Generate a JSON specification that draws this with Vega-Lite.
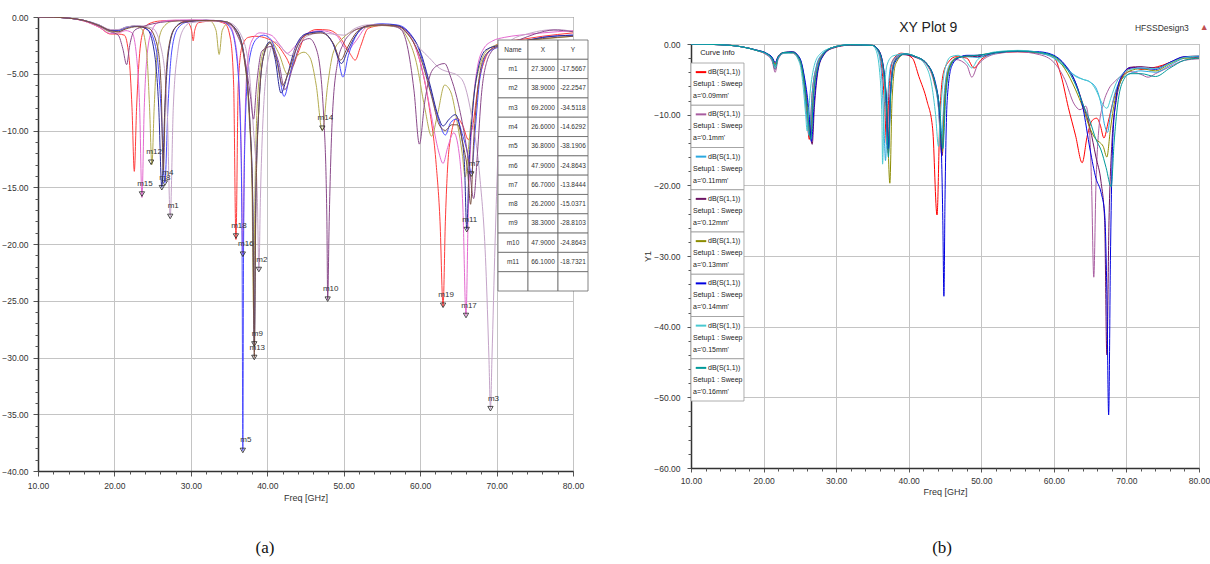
{
"$schema":"https://vega.github.io/schema/vega-lite/v6.json",
"background":"white",
"padding":{"left":1,"top":12,"right":0,"bottom":0},
"spacing":54,
"resolve":{"scale":{"color":"independent"}},
"datasets":{
"L":[
{"s":"red","f":10,"d":0},{"s":"red","f":12,"d":-0.02},{"s":"red","f":14,"d":-0.1},{"s":"red","f":16,"d":-0.35},{"s":"red","f":18,"d":-0.9},{"s":"red","f":19.5,"d":-1.5},{"s":"red","f":20.5,"d":-1.5},{"s":"red","f":21.3,"d":-1.6},{"s":"red","f":21.9,"d":-3.5},{"s":"red","f":22.3,"d":-8},{"s":"red","f":22.6,"d":-13.6},{"s":"red","f":22.9,"d":-8},{"s":"red","f":23.3,"d":-3.2},{"s":"red","f":23.8,"d":-1.2},{"s":"red","f":24.5,"d":-0.6},{"s":"red","f":26,"d":-0.35},{"s":"red","f":28,"d":-0.3},{"s":"red","f":29.6,"d":-0.5},{"s":"red","f":30.1,"d":-1.2},{"s":"red","f":30.3,"d":-2.1},{"s":"red","f":30.5,"d":-1.2},{"s":"red","f":31,"d":-0.5},{"s":"red","f":33,"d":-0.35},{"s":"red","f":34.5,"d":-0.6},{"s":"red","f":35.2,"d":-2},{"s":"red","f":35.6,"d":-6},{"s":"red","f":35.9,"d":-19.6},{"s":"red","f":36.2,"d":-6},{"s":"red","f":36.7,"d":-2.6},{"s":"red","f":37.5,"d":-1.8},{"s":"red","f":38.5,"d":-1.7},{"s":"red","f":40,"d":-1.9},{"s":"red","f":41.5,"d":-2.6},{"s":"red","f":42.5,"d":-3.6},{"s":"red","f":43.2,"d":-4.4},{"s":"red","f":44,"d":-3.2},{"s":"red","f":45,"d":-1.6},{"s":"red","f":46.5,"d":-1.1},{"s":"red","f":48,"d":-1.15},{"s":"red","f":49.5,"d":-1.8},{"s":"red","f":50.8,"d":-3.2},{"s":"red","f":51.5,"d":-3.8},{"s":"red","f":52.2,"d":-2.6},{"s":"red","f":53.2,"d":-1.0},{"s":"red","f":55,"d":-0.75},{"s":"red","f":57,"d":-0.8},{"s":"red","f":58.3,"d":-1.4},{"s":"red","f":59.1,"d":-2.2},{"s":"red","f":60.2,"d":-4.5},{"s":"red","f":61.2,"d":-8},{"s":"red","f":62.1,"d":-13},{"s":"red","f":62.6,"d":-18},{"s":"red","f":63.0,"d":-25.5},{"s":"red","f":63.3,"d":-18},{"s":"red","f":63.8,"d":-11.5},{"s":"red","f":64.8,"d":-8.9},{"s":"red","f":65.6,"d":-9.6},{"s":"red","f":66.3,"d":-10.8},{"s":"red","f":66.9,"d":-9.5},{"s":"red","f":67.6,"d":-6},{"s":"red","f":68.5,"d":-3.7},{"s":"red","f":69.5,"d":-2.7},{"s":"red","f":71,"d":-2.2},{"s":"red","f":73,"d":-2.0},{"s":"red","f":76,"d":-1.7},{"s":"red","f":80,"d":-1.4},
{"s":"pink","f":10,"d":0},{"s":"pink","f":12,"d":-0.02},{"s":"pink","f":14,"d":-0.1},{"s":"pink","f":16,"d":-0.35},{"s":"pink","f":18,"d":-0.9},{"s":"pink","f":19.5,"d":-1.45},{"s":"pink","f":20.5,"d":-1.4},{"s":"pink","f":21.5,"d":-1.2},{"s":"pink","f":22.3,"d":-1.4},{"s":"pink","f":22.9,"d":-3.5},{"s":"pink","f":23.3,"d":-8},{"s":"pink","f":23.6,"d":-15.9},{"s":"pink","f":23.9,"d":-8},{"s":"pink","f":24.3,"d":-3.2},{"s":"pink","f":24.9,"d":-1.2},{"s":"pink","f":25.7,"d":-0.5},{"s":"pink","f":27,"d":-0.3},{"s":"pink","f":30,"d":-0.25},{"s":"pink","f":33,"d":-0.3},{"s":"pink","f":35,"d":-0.7},{"s":"pink","f":35.8,"d":-2.2},{"s":"pink","f":36.3,"d":-6},{"s":"pink","f":36.6,"d":-12},{"s":"pink","f":36.8,"d":-20.9},{"s":"pink","f":37.0,"d":-12},{"s":"pink","f":37.3,"d":-5},{"s":"pink","f":37.9,"d":-2.2},{"s":"pink","f":39,"d":-1.4},{"s":"pink","f":40.5,"d":-1.6},{"s":"pink","f":41.7,"d":-2.5},{"s":"pink","f":42.6,"d":-3.2},{"s":"pink","f":43.6,"d":-2.6},{"s":"pink","f":45,"d":-1.5},{"s":"pink","f":47,"d":-1.2},{"s":"pink","f":49,"d":-1.6},{"s":"pink","f":50.5,"d":-2.9},{"s":"pink","f":51.5,"d":-2.2},{"s":"pink","f":53,"d":-0.9},{"s":"pink","f":55,"d":-0.7},{"s":"pink","f":57.5,"d":-0.9},{"s":"pink","f":59,"d":-2},{"s":"pink","f":60.4,"d":-5},{"s":"pink","f":61.5,"d":-8.8},{"s":"pink","f":62.4,"d":-11.8},{"s":"pink","f":63.0,"d":-12.9},{"s":"pink","f":63.6,"d":-11.5},{"s":"pink","f":64.4,"d":-10.2},{"s":"pink","f":65.1,"d":-12},{"s":"pink","f":65.6,"d":-17},{"s":"pink","f":66.0,"d":-26.3},{"s":"pink","f":66.3,"d":-17},{"s":"pink","f":66.8,"d":-9},{"s":"pink","f":67.4,"d":-4.8},{"s":"pink","f":68.3,"d":-2.8},{"s":"pink","f":69.5,"d":-2.1},{"s":"pink","f":71,"d":-1.8},{"s":"pink","f":73,"d":-1.6},{"s":"pink","f":76,"d":-1.4},{"s":"pink","f":80,"d":-1.2},
{"s":"olive","f":10,"d":0},{"s":"olive","f":12,"d":-0.02},{"s":"olive","f":14,"d":-0.1},{"s":"olive","f":16,"d":-0.3},{"s":"olive","f":18,"d":-0.8},{"s":"olive","f":19.5,"d":-1.3},{"s":"olive","f":20.5,"d":-1.3},{"s":"olive","f":21.5,"d":-1.0},{"s":"olive","f":22.5,"d":-0.8},{"s":"olive","f":23.5,"d":-1.0},{"s":"olive","f":24.2,"d":-3},{"s":"olive","f":24.6,"d":-8},{"s":"olive","f":24.9,"d":-13.0},{"s":"olive","f":25.2,"d":-8},{"s":"olive","f":25.6,"d":-3},{"s":"olive","f":26.3,"d":-1.0},{"s":"olive","f":27.5,"d":-0.4},{"s":"olive","f":30,"d":-0.3},{"s":"olive","f":32.5,"d":-0.35},{"s":"olive","f":33.3,"d":-1.2},{"s":"olive","f":33.7,"d":-3.3},{"s":"olive","f":34.1,"d":-1.2},{"s":"olive","f":34.8,"d":-0.6},{"s":"olive","f":36,"d":-1.2},{"s":"olive","f":36.9,"d":-3.2},{"s":"olive","f":37.6,"d":-8.5},{"s":"olive","f":38.0,"d":-15},{"s":"olive","f":38.2,"d":-25.8},{"s":"olive","f":38.4,"d":-15},{"s":"olive","f":38.8,"d":-6.5},{"s":"olive","f":39.5,"d":-3},{"s":"olive","f":40.5,"d":-2.2},{"s":"olive","f":41.5,"d":-3.2},{"s":"olive","f":42.7,"d":-5.1},{"s":"olive","f":43.7,"d":-3.6},{"s":"olive","f":44.8,"d":-3.1},{"s":"olive","f":45.6,"d":-3.6},{"s":"olive","f":46.4,"d":-6},{"s":"olive","f":47.2,"d":-10},{"s":"olive","f":47.9,"d":-6},{"s":"olive","f":48.6,"d":-3.2},{"s":"olive","f":49.7,"d":-2.0},{"s":"olive","f":51,"d":-1.3},{"s":"olive","f":53,"d":-0.9},{"s":"olive","f":55,"d":-0.75},{"s":"olive","f":57,"d":-0.9},{"s":"olive","f":58.3,"d":-1.8},{"s":"olive","f":59.5,"d":-4},{"s":"olive","f":60.6,"d":-8},{"s":"olive","f":61.5,"d":-10.5},{"s":"olive","f":62.3,"d":-8.5},{"s":"olive","f":63.2,"d":-6.0},{"s":"olive","f":64.0,"d":-6.6},{"s":"olive","f":64.9,"d":-9.5},{"s":"olive","f":65.5,"d":-12},{"s":"olive","f":65.9,"d":-14.1},{"s":"olive","f":66.4,"d":-11},{"s":"olive","f":67,"d":-7},{"s":"olive","f":67.8,"d":-4.3},{"s":"olive","f":68.8,"d":-2.9},{"s":"olive","f":70.3,"d":-2.4},{"s":"olive","f":72,"d":-2.2},{"s":"olive","f":75,"d":-2.0},{"s":"olive","f":80,"d":-1.7},
{"s":"blue","f":10,"d":0},{"s":"blue","f":12,"d":-0.02},{"s":"blue","f":14,"d":-0.1},{"s":"blue","f":16,"d":-0.3},{"s":"blue","f":18,"d":-0.75},{"s":"blue","f":19.5,"d":-1.2},{"s":"blue","f":20.5,"d":-1.2},{"s":"blue","f":21.5,"d":-0.95},{"s":"blue","f":23,"d":-0.8},{"s":"blue","f":24.5,"d":-1.2},{"s":"blue","f":25.5,"d":-3},{"s":"blue","f":26.1,"d":-8},{"s":"blue","f":26.6,"d":-14.6},{"s":"blue","f":27.0,"d":-8},{"s":"blue","f":27.5,"d":-3},{"s":"blue","f":28.3,"d":-1.0},{"s":"blue","f":29.5,"d":-0.45},{"s":"blue","f":32,"d":-0.3},{"s":"blue","f":34,"d":-0.35},{"s":"blue","f":35.2,"d":-1.0},{"s":"blue","f":36.0,"d":-3.5},{"s":"blue","f":36.5,"d":-10},{"s":"blue","f":36.7,"d":-20},{"s":"blue","f":36.8,"d":-38.2},{"s":"blue","f":36.9,"d":-20},{"s":"blue","f":37.1,"d":-10},{"s":"blue","f":37.6,"d":-4},{"s":"blue","f":38.5,"d":-2},{"s":"blue","f":39.5,"d":-1.6},{"s":"blue","f":40.5,"d":-2.0},{"s":"blue","f":41.3,"d":-3.8},{"s":"blue","f":42.2,"d":-7.0},{"s":"blue","f":43,"d":-5},{"s":"blue","f":44,"d":-2.4},{"s":"blue","f":45.5,"d":-1.4},{"s":"blue","f":47,"d":-1.3},{"s":"blue","f":48.2,"d":-1.9},{"s":"blue","f":49.2,"d":-3.4},{"s":"blue","f":49.9,"d":-5.3},{"s":"blue","f":50.6,"d":-3.4},{"s":"blue","f":51.5,"d":-1.8},{"s":"blue","f":53,"d":-0.8},{"s":"blue","f":55,"d":-0.6},{"s":"blue","f":57,"d":-0.7},{"s":"blue","f":58.5,"d":-1.3},{"s":"blue","f":59.8,"d":-2.8},{"s":"blue","f":61,"d":-5.5},{"s":"blue","f":62.3,"d":-8.8},{"s":"blue","f":63.3,"d":-10.4},{"s":"blue","f":64.0,"d":-9.3},{"s":"blue","f":64.7,"d":-9.0},{"s":"blue","f":65.6,"d":-10.5},{"s":"blue","f":66.2,"d":-12},{"s":"blue","f":66.7,"d":-13.8},{"s":"blue","f":67.2,"d":-10},{"s":"blue","f":67.8,"d":-5.5},{"s":"blue","f":68.8,"d":-3.2},{"s":"blue","f":70.5,"d":-2.6},{"s":"blue","f":73,"d":-2.2},{"s":"blue","f":76,"d":-1.8},{"s":"blue","f":80,"d":-1.6},
{"s":"navy","f":10,"d":0},{"s":"navy","f":12,"d":-0.02},{"s":"navy","f":14,"d":-0.1},{"s":"navy","f":16,"d":-0.3},{"s":"navy","f":18,"d":-0.7},{"s":"navy","f":19.5,"d":-1.15},{"s":"navy","f":20.5,"d":-1.15},{"s":"navy","f":21.5,"d":-0.9},{"s":"navy","f":23,"d":-0.8},{"s":"navy","f":24.3,"d":-1.1},{"s":"navy","f":25.2,"d":-3},{"s":"navy","f":25.8,"d":-8},{"s":"navy","f":26.2,"d":-15.0},{"s":"navy","f":26.6,"d":-8},{"s":"navy","f":27.1,"d":-3},{"s":"navy","f":27.9,"d":-1.0},{"s":"navy","f":29,"d":-0.45},{"s":"navy","f":32,"d":-0.3},{"s":"navy","f":34.5,"d":-0.4},{"s":"navy","f":36,"d":-1.2},{"s":"navy","f":37,"d":-3.5},{"s":"navy","f":37.7,"d":-9},{"s":"navy","f":38.1,"d":-16},{"s":"navy","f":38.3,"d":-28.8},{"s":"navy","f":38.5,"d":-16},{"s":"navy","f":38.9,"d":-8},{"s":"navy","f":39.5,"d":-3.5},{"s":"navy","f":40.3,"d":-2.2},{"s":"navy","f":41,"d":-3.6},{"s":"navy","f":41.8,"d":-6.7},{"s":"navy","f":42.6,"d":-5.2},{"s":"navy","f":43.6,"d":-2.8},{"s":"navy","f":45,"d":-1.5},{"s":"navy","f":47,"d":-1.3},{"s":"navy","f":48.5,"d":-2.2},{"s":"navy","f":49.7,"d":-4.1},{"s":"navy","f":50.5,"d":-3},{"s":"navy","f":51.5,"d":-1.7},{"s":"navy","f":53,"d":-0.8},{"s":"navy","f":55,"d":-0.65},{"s":"navy","f":57,"d":-0.75},{"s":"navy","f":58.5,"d":-1.4},{"s":"navy","f":60,"d":-3},{"s":"navy","f":61.3,"d":-6},{"s":"navy","f":62.3,"d":-8.6},{"s":"navy","f":63.0,"d":-9.6},{"s":"navy","f":63.8,"d":-9.0},{"s":"navy","f":64.6,"d":-8.6},{"s":"navy","f":65.4,"d":-10.5},{"s":"navy","f":65.8,"d":-13},{"s":"navy","f":66.1,"d":-18.7},{"s":"navy","f":66.4,"d":-13},{"s":"navy","f":66.9,"d":-8},{"s":"navy","f":67.6,"d":-4.5},{"s":"navy","f":68.6,"d":-2.9},{"s":"navy","f":70.3,"d":-2.5},{"s":"navy","f":73,"d":-2.2},{"s":"navy","f":76,"d":-1.8},{"s":"navy","f":80,"d":-1.6},
{"s":"mauve","f":10,"d":0},{"s":"mauve","f":12,"d":-0.02},{"s":"mauve","f":14,"d":-0.1},{"s":"mauve","f":16,"d":-0.3},{"s":"mauve","f":18,"d":-0.7},{"s":"mauve","f":19.5,"d":-1.1},{"s":"mauve","f":20.5,"d":-1.1},{"s":"mauve","f":21.5,"d":-0.9},{"s":"mauve","f":23,"d":-0.75},{"s":"mauve","f":25,"d":-1.0},{"s":"mauve","f":26.2,"d":-3},{"s":"mauve","f":26.9,"d":-8},{"s":"mauve","f":27.3,"d":-17.6},{"s":"mauve","f":27.7,"d":-8},{"s":"mauve","f":28.3,"d":-3},{"s":"mauve","f":29,"d":-1.1},{"s":"mauve","f":30,"d":-0.5},{"s":"mauve","f":33,"d":-0.35},{"s":"mauve","f":35,"d":-0.5},{"s":"mauve","f":36.5,"d":-1.5},{"s":"mauve","f":37.5,"d":-4},{"s":"mauve","f":38.2,"d":-10},{"s":"mauve","f":38.7,"d":-16},{"s":"mauve","f":38.9,"d":-22.3},{"s":"mauve","f":39.1,"d":-16},{"s":"mauve","f":39.6,"d":-7},{"s":"mauve","f":40.3,"d":-3.2},{"s":"mauve","f":41,"d":-2.2},{"s":"mauve","f":42,"d":-2.8},{"s":"mauve","f":43.1,"d":-3.4},{"s":"mauve","f":44,"d":-2.4},{"s":"mauve","f":45.5,"d":-1.6},{"s":"mauve","f":47,"d":-1.4},{"s":"mauve","f":48.5,"d":-1.5},{"s":"mauve","f":50,"d":-1.6},{"s":"mauve","f":51.5,"d":-1.0},{"s":"mauve","f":53,"d":-0.7},{"s":"mauve","f":55,"d":-0.65},{"s":"mauve","f":57,"d":-0.9},{"s":"mauve","f":58.5,"d":-1.6},{"s":"mauve","f":60,"d":-2.8},{"s":"mauve","f":61.2,"d":-3.6},{"s":"mauve","f":62.5,"d":-4.5},{"s":"mauve","f":64,"d":-4.9},{"s":"mauve","f":64.8,"d":-5.1},{"s":"mauve","f":65.7,"d":-5.8},{"s":"mauve","f":66.8,"d":-9},{"s":"mauve","f":67.8,"d":-14},{"s":"mauve","f":68.6,"d":-22},{"s":"mauve","f":69.0,"d":-30},{"s":"mauve","f":69.2,"d":-34.5},{"s":"mauve","f":69.4,"d":-30},{"s":"mauve","f":69.8,"d":-20},{"s":"mauve","f":70.3,"d":-10},{"s":"mauve","f":71,"d":-4},{"s":"mauve","f":72,"d":-2.0},{"s":"mauve","f":74,"d":-1.5},{"s":"mauve","f":76.5,"d":-1.15},{"s":"mauve","f":78,"d":-1.1},{"s":"mauve","f":80,"d":-1.3},
{"s":"purple","f":10,"d":0},{"s":"purple","f":12,"d":-0.02},{"s":"purple","f":14,"d":-0.1},{"s":"purple","f":16,"d":-0.3},{"s":"purple","f":18,"d":-0.8},{"s":"purple","f":19.5,"d":-1.3},{"s":"purple","f":20.5,"d":-1.6},{"s":"purple","f":21.1,"d":-2.8},{"s":"purple","f":21.6,"d":-4.2},{"s":"purple","f":22.0,"d":-2.5},{"s":"purple","f":22.6,"d":-1.2},{"s":"purple","f":23.5,"d":-0.9},{"s":"purple","f":25,"d":-0.6},{"s":"purple","f":27,"d":-0.4},{"s":"purple","f":30,"d":-0.3},{"s":"purple","f":33,"d":-0.3},{"s":"purple","f":35,"d":-0.6},{"s":"purple","f":36,"d":-1.5},{"s":"purple","f":37,"d":-3.5},{"s":"purple","f":37.8,"d":-7},{"s":"purple","f":38.2,"d":-9},{"s":"purple","f":38.6,"d":-6},{"s":"purple","f":39.3,"d":-3},{"s":"purple","f":40.5,"d":-2.6},{"s":"purple","f":41.5,"d":-4},{"s":"purple","f":42.3,"d":-6.4},{"s":"purple","f":43.3,"d":-4.5},{"s":"purple","f":44.5,"d":-2.2},{"s":"purple","f":45.5,"d":-1.9},{"s":"purple","f":46.5,"d":-3},{"s":"purple","f":47.4,"d":-9},{"s":"purple","f":47.8,"d":-18},{"s":"purple","f":47.9,"d":-24.9},{"s":"purple","f":48.1,"d":-18},{"s":"purple","f":48.5,"d":-9},{"s":"purple","f":49.2,"d":-4},{"s":"purple","f":50,"d":-2.3},{"s":"purple","f":51,"d":-1.4},{"s":"purple","f":52.5,"d":-0.9},{"s":"purple","f":54.5,"d":-0.7},{"s":"purple","f":56.5,"d":-0.8},{"s":"purple","f":57.5,"d":-1.1},{"s":"purple","f":58.3,"d":-2.5},{"s":"purple","f":59.2,"d":-6.5},{"s":"purple","f":59.9,"d":-11.2},{"s":"purple","f":60.6,"d":-7.5},{"s":"purple","f":61.5,"d":-4.8},{"s":"purple","f":62.5,"d":-4.2},{"s":"purple","f":63.2,"d":-4.1},{"s":"purple","f":64,"d":-5.3},{"s":"purple","f":64.8,"d":-7.1},{"s":"purple","f":65.7,"d":-10},{"s":"purple","f":66.4,"d":-13},{"s":"purple","f":67.0,"d":-16},{"s":"purple","f":67.5,"d":-12},{"s":"purple","f":68,"d":-7},{"s":"purple","f":68.7,"d":-4},{"s":"purple","f":69.7,"d":-2.8},{"s":"purple","f":71,"d":-2.4},{"s":"purple","f":73,"d":-2.0},{"s":"purple","f":75,"d":-1.5},{"s":"purple","f":77.5,"d":-1.15},{"s":"purple","f":80,"d":-1.3},
{"s":"brown","f":10,"d":0},{"s":"brown","f":12,"d":-0.02},{"s":"brown","f":14,"d":-0.1},{"s":"brown","f":16,"d":-0.3},{"s":"brown","f":18,"d":-0.75},{"s":"brown","f":19.5,"d":-1.2},{"s":"brown","f":20.5,"d":-1.3},{"s":"brown","f":21.5,"d":-1.05},{"s":"brown","f":23,"d":-0.85},{"s":"brown","f":24.5,"d":-1.0},{"s":"brown","f":25.6,"d":-2.5},{"s":"brown","f":26.1,"d":-6},{"s":"brown","f":26.4,"d":-13.5},{"s":"brown","f":26.7,"d":-6},{"s":"brown","f":27.2,"d":-2.3},{"s":"brown","f":28,"d":-0.9},{"s":"brown","f":29.5,"d":-0.4},{"s":"brown","f":32,"d":-0.3},{"s":"brown","f":34.5,"d":-0.4},{"s":"brown","f":36,"d":-1.3},{"s":"brown","f":37,"d":-3.8},{"s":"brown","f":37.7,"d":-9},{"s":"brown","f":38.1,"d":-17},{"s":"brown","f":38.3,"d":-30},{"s":"brown","f":38.5,"d":-17},{"s":"brown","f":38.9,"d":-8},{"s":"brown","f":39.5,"d":-3.5},{"s":"brown","f":40.4,"d":-2.3},{"s":"brown","f":41.2,"d":-3.8},{"s":"brown","f":42,"d":-6},{"s":"brown","f":42.8,"d":-4.8},{"s":"brown","f":43.8,"d":-2.8},{"s":"brown","f":45,"d":-1.6},{"s":"brown","f":47,"d":-1.4},{"s":"brown","f":48.7,"d":-2.4},{"s":"brown","f":49.6,"d":-3.8},{"s":"brown","f":50.4,"d":-2.8},{"s":"brown","f":51.5,"d":-1.5},{"s":"brown","f":53,"d":-0.8},{"s":"brown","f":55,"d":-0.7},{"s":"brown","f":57,"d":-0.8},{"s":"brown","f":58.5,"d":-1.6},{"s":"brown","f":60,"d":-3.5},{"s":"brown","f":61.5,"d":-7},{"s":"brown","f":62.5,"d":-9.5},{"s":"brown","f":63.3,"d":-10},{"s":"brown","f":64.1,"d":-9.5},{"s":"brown","f":64.9,"d":-9.5},{"s":"brown","f":65.7,"d":-11.5},{"s":"brown","f":66.2,"d":-13.5},{"s":"brown","f":66.6,"d":-16.5},{"s":"brown","f":67.0,"d":-11},{"s":"brown","f":67.6,"d":-6},{"s":"brown","f":68.5,"d":-3.4},{"s":"brown","f":70,"d":-2.6},{"s":"brown","f":72.5,"d":-2.2},{"s":"brown","f":76,"d":-1.9},{"s":"brown","f":80,"d":-1.7}
],
"M":[
{"n":"m15","f":23.6,"d":-15.6},{"n":"m12","f":24.8,"d":-12.8},{"n":"m4","f":26.6,"d":-14.63},{"n":"m8","f":26.2,"d":-15.04},{"n":"m1","f":27.3,"d":-17.57},{"n":"m18","f":35.9,"d":-19.3},{"n":"m16","f":36.8,"d":-20.9},{"n":"m2","f":38.9,"d":-22.25},{"n":"m9","f":38.3,"d":-28.81},{"n":"m13","f":38.3,"d":-30.0},{"n":"m5","f":36.8,"d":-38.19},{"n":"m14","f":47.2,"d":-9.8},{"n":"m10","f":47.9,"d":-24.86},{"n":"m19","f":63.0,"d":-25.4},{"n":"m17","f":66.0,"d":-26.3},{"n":"m11","f":66.1,"d":-18.73},{"n":"m7","f":66.7,"d":-13.84},{"n":"m3","f":69.2,"d":-34.51}
],
"T":[
{"r":0,"Name":"Name","X":"X","Y":"Y"},
{"r":1,"Name":"m1","X":"27.3000","Y":"-17.5667"},
{"r":2,"Name":"m2","X":"38.9000","Y":"-22.2547"},
{"r":3,"Name":"m3","X":"69.2000","Y":"-34.5118"},
{"r":4,"Name":"m4","X":"26.6000","Y":"-14.6292"},
{"r":5,"Name":"m5","X":"36.8000","Y":"-38.1906"},
{"r":6,"Name":"m6","X":"47.9000","Y":"-24.8643"},
{"r":7,"Name":"m7","X":"66.7000","Y":"-13.8444"},
{"r":8,"Name":"m8","X":"26.2000","Y":"-15.0371"},
{"r":9,"Name":"m9","X":"38.3000","Y":"-28.8103"},
{"r":10,"Name":"m10","X":"47.9000","Y":"-24.8643"},
{"r":11,"Name":"m11","X":"66.1000","Y":"-18.7321"},
{"r":12,"Name":"","X":"","Y":""}
],
"LG":[
{"a":"0.09mm","l3":"a='0.09mm'"},{"a":"0.1mm","l3":"a='0.1mm'"},{"a":"0.11mm","l3":"a='0.11mm'"},{"a":"0.12mm","l3":"a='0.12mm'"},{"a":"0.13mm","l3":"a='0.13mm'"},{"a":"0.14mm","l3":"a='0.14mm'"},{"a":"0.15mm","l3":"a='0.15mm'"},{"a":"0.16mm","l3":"a='0.16mm'"}
],
"R":[
{"a":"0.09mm","f":10,"d":0},{"a":"0.09mm","f":14,"d":-0.1},{"a":"0.09mm","f":17,"d":-0.4},{"a":"0.09mm","f":19,"d":-0.9},{"a":"0.09mm","f":20.5,"d":-1.5},{"a":"0.09mm","f":21.2,"d":-2.0},{"a":"0.09mm","f":21.6,"d":-2.8},{"a":"0.09mm","f":22.0,"d":-1.8},{"a":"0.09mm","f":22.8,"d":-1.2},{"a":"0.09mm","f":24,"d":-1.3},{"a":"0.09mm","f":25,"d":-2.5},{"a":"0.09mm","f":25.6,"d":-6},{"a":"0.09mm","f":26.0,"d":-10.5},{"a":"0.09mm","f":26.3,"d":-13.5},{"a":"0.09mm","f":26.7,"d":-7},{"a":"0.09mm","f":27.3,"d":-3.2},{"a":"0.09mm","f":28,"d":-1.6},{"a":"0.09mm","f":29.5,"d":-0.5},{"a":"0.09mm","f":32,"d":-0.15},{"a":"0.09mm","f":35,"d":-0.2},{"a":"0.09mm","f":35.8,"d":-1.0},{"a":"0.09mm","f":36.3,"d":-3.5},{"a":"0.09mm","f":36.7,"d":-9},{"a":"0.09mm","f":36.95,"d":-14.2},{"a":"0.09mm","f":37.3,"d":-6},{"a":"0.09mm","f":37.8,"d":-2.3},{"a":"0.09mm","f":39,"d":-1.3},{"a":"0.09mm","f":40.5,"d":-2.0},{"a":"0.09mm","f":41.4,"d":-4.6},{"a":"0.09mm","f":42.5,"d":-8},{"a":"0.09mm","f":43.3,"d":-12},{"a":"0.09mm","f":43.9,"d":-24.2},{"a":"0.09mm","f":44.3,"d":-10},{"a":"0.09mm","f":44.8,"d":-4},{"a":"0.09mm","f":45.6,"d":-2.4},{"a":"0.09mm","f":46.5,"d":-1.8},{"a":"0.09mm","f":48,"d":-2.0},{"a":"0.09mm","f":49.0,"d":-3.4},{"a":"0.09mm","f":50,"d":-2.2},{"a":"0.09mm","f":52,"d":-1.3},{"a":"0.09mm","f":55,"d":-1.1},{"a":"0.09mm","f":58,"d":-1.3},{"a":"0.09mm","f":60,"d":-1.9},{"a":"0.09mm","f":61,"d":-4.5},{"a":"0.09mm","f":62,"d":-9},{"a":"0.09mm","f":63,"d":-13},{"a":"0.09mm","f":63.9,"d":-16.8},{"a":"0.09mm","f":64.6,"d":-13},{"a":"0.09mm","f":65.3,"d":-10.8},{"a":"0.09mm","f":65.9,"d":-10.5},{"a":"0.09mm","f":66.4,"d":-11.5},{"a":"0.09mm","f":66.9,"d":-13.3},{"a":"0.09mm","f":67.5,"d":-11},{"a":"0.09mm","f":68.2,"d":-8},{"a":"0.09mm","f":69,"d":-5.5},{"a":"0.09mm","f":70,"d":-3.8},{"a":"0.09mm","f":71,"d":-3.3},{"a":"0.09mm","f":72,"d":-3.6},{"a":"0.09mm","f":73.5,"d":-3.4},{"a":"0.09mm","f":75,"d":-3.0},{"a":"0.09mm","f":77,"d":-2.2},{"a":"0.09mm","f":78.5,"d":-1.8},{"a":"0.09mm","f":80,"d":-2.0},
{"a":"0.1mm","f":10,"d":0},{"a":"0.1mm","f":14,"d":-0.1},{"a":"0.1mm","f":17,"d":-0.4},{"a":"0.1mm","f":19,"d":-0.9},{"a":"0.1mm","f":20.5,"d":-1.6},{"a":"0.1mm","f":21.2,"d":-2.5},{"a":"0.1mm","f":21.6,"d":-4.0},{"a":"0.1mm","f":22.0,"d":-2.2},{"a":"0.1mm","f":22.8,"d":-1.3},{"a":"0.1mm","f":24,"d":-1.2},{"a":"0.1mm","f":25,"d":-2.3},{"a":"0.1mm","f":25.6,"d":-5.5},{"a":"0.1mm","f":26.0,"d":-9},{"a":"0.1mm","f":26.4,"d":-13.0},{"a":"0.1mm","f":26.8,"d":-8},{"a":"0.1mm","f":27.3,"d":-3.5},{"a":"0.1mm","f":28,"d":-1.7},{"a":"0.1mm","f":29.5,"d":-0.6},{"a":"0.1mm","f":32,"d":-0.15},{"a":"0.1mm","f":35,"d":-0.2},{"a":"0.1mm","f":35.8,"d":-0.9},{"a":"0.1mm","f":36.4,"d":-3.5},{"a":"0.1mm","f":36.8,"d":-8},{"a":"0.1mm","f":37.1,"d":-15.0},{"a":"0.1mm","f":37.4,"d":-7},{"a":"0.1mm","f":37.9,"d":-2.6},{"a":"0.1mm","f":39,"d":-1.4},{"a":"0.1mm","f":41,"d":-1.9},{"a":"0.1mm","f":42.5,"d":-3.0},{"a":"0.1mm","f":43.5,"d":-5.5},{"a":"0.1mm","f":44.1,"d":-9},{"a":"0.1mm","f":44.5,"d":-15.5},{"a":"0.1mm","f":44.9,"d":-8},{"a":"0.1mm","f":45.5,"d":-3.5},{"a":"0.1mm","f":46.5,"d":-2.2},{"a":"0.1mm","f":48,"d":-3.0},{"a":"0.1mm","f":48.7,"d":-4.7},{"a":"0.1mm","f":49.5,"d":-3.0},{"a":"0.1mm","f":52,"d":-1.4},{"a":"0.1mm","f":55,"d":-1.1},{"a":"0.1mm","f":58,"d":-1.5},{"a":"0.1mm","f":60,"d":-2.6},{"a":"0.1mm","f":61.5,"d":-5},{"a":"0.1mm","f":62.8,"d":-8.5},{"a":"0.1mm","f":63.6,"d":-9.3},{"a":"0.1mm","f":64.4,"d":-8.8},{"a":"0.1mm","f":64.9,"d":-12},{"a":"0.1mm","f":65.2,"d":-20},{"a":"0.1mm","f":65.5,"d":-33},{"a":"0.1mm","f":65.8,"d":-20},{"a":"0.1mm","f":66.2,"d":-12},{"a":"0.1mm","f":66.8,"d":-8.5},{"a":"0.1mm","f":67.5,"d":-6.5},{"a":"0.1mm","f":68.5,"d":-5.2},{"a":"0.1mm","f":69.5,"d":-4.4},{"a":"0.1mm","f":70.5,"d":-3.9},{"a":"0.1mm","f":72,"d":-4.3},{"a":"0.1mm","f":73,"d":-4.7},{"a":"0.1mm","f":74,"d":-4.2},{"a":"0.1mm","f":76,"d":-3.2},{"a":"0.1mm","f":78,"d":-2.3},{"a":"0.1mm","f":80,"d":-2.1},
{"a":"0.11mm","f":10,"d":0},{"a":"0.11mm","f":14,"d":-0.1},{"a":"0.11mm","f":17,"d":-0.4},{"a":"0.11mm","f":19,"d":-0.85},{"a":"0.11mm","f":20.5,"d":-1.4},{"a":"0.11mm","f":21.2,"d":-2.0},{"a":"0.11mm","f":21.6,"d":-3.0},{"a":"0.11mm","f":22.0,"d":-1.9},{"a":"0.11mm","f":22.8,"d":-1.2},{"a":"0.11mm","f":24,"d":-1.2},{"a":"0.11mm","f":25,"d":-2.4},{"a":"0.11mm","f":25.6,"d":-6},{"a":"0.11mm","f":26.0,"d":-11},{"a":"0.11mm","f":26.3,"d":-13.0},{"a":"0.11mm","f":26.7,"d":-7},{"a":"0.11mm","f":27.3,"d":-3.0},{"a":"0.11mm","f":28,"d":-1.5},{"a":"0.11mm","f":29.5,"d":-0.5},{"a":"0.11mm","f":32,"d":-0.1},{"a":"0.11mm","f":35,"d":-0.2},{"a":"0.11mm","f":35.8,"d":-1.2},{"a":"0.11mm","f":36.3,"d":-5},{"a":"0.11mm","f":36.6,"d":-12},{"a":"0.11mm","f":36.8,"d":-16.5},{"a":"0.11mm","f":37.1,"d":-8},{"a":"0.11mm","f":37.6,"d":-2.8},{"a":"0.11mm","f":39,"d":-1.4},{"a":"0.11mm","f":41,"d":-1.8},{"a":"0.11mm","f":42.5,"d":-2.8},{"a":"0.11mm","f":43.5,"d":-5},{"a":"0.11mm","f":44.1,"d":-9},{"a":"0.11mm","f":44.5,"d":-14.5},{"a":"0.11mm","f":44.9,"d":-7},{"a":"0.11mm","f":45.5,"d":-3.2},{"a":"0.11mm","f":46.5,"d":-2.0},{"a":"0.11mm","f":48,"d":-1.8},{"a":"0.11mm","f":49.5,"d":-1.9},{"a":"0.11mm","f":52,"d":-1.3},{"a":"0.11mm","f":55,"d":-1.0},{"a":"0.11mm","f":58,"d":-1.3},{"a":"0.11mm","f":60,"d":-2.0},{"a":"0.11mm","f":61.5,"d":-3.3},{"a":"0.11mm","f":63,"d":-4.5},{"a":"0.11mm","f":64,"d":-5.0},{"a":"0.11mm","f":65,"d":-5.4},{"a":"0.11mm","f":65.8,"d":-6.2},{"a":"0.11mm","f":66.5,"d":-8.5},{"a":"0.11mm","f":67.0,"d":-11.5},{"a":"0.11mm","f":67.4,"d":-12.5},{"a":"0.11mm","f":67.8,"d":-10},{"a":"0.11mm","f":68.4,"d":-7},{"a":"0.11mm","f":69.2,"d":-5.2},{"a":"0.11mm","f":70.5,"d":-4.2},{"a":"0.11mm","f":72,"d":-3.8},{"a":"0.11mm","f":74,"d":-4.0},{"a":"0.11mm","f":76,"d":-3.0},{"a":"0.11mm","f":78,"d":-2.0},{"a":"0.11mm","f":80,"d":-1.8},
{"a":"0.12mm","f":10,"d":0},{"a":"0.12mm","f":14,"d":-0.1},{"a":"0.12mm","f":17,"d":-0.4},{"a":"0.12mm","f":19,"d":-0.9},{"a":"0.12mm","f":20.5,"d":-1.5},{"a":"0.12mm","f":21.2,"d":-2.3},{"a":"0.12mm","f":21.6,"d":-3.6},{"a":"0.12mm","f":22.0,"d":-2.0},{"a":"0.12mm","f":22.8,"d":-1.3},{"a":"0.12mm","f":24,"d":-1.2},{"a":"0.12mm","f":25,"d":-2.1},{"a":"0.12mm","f":25.6,"d":-4.8},{"a":"0.12mm","f":26.1,"d":-9},{"a":"0.12mm","f":26.7,"d":-14.2},{"a":"0.12mm","f":27.0,"d":-9},{"a":"0.12mm","f":27.5,"d":-3.8},{"a":"0.12mm","f":28.2,"d":-1.7},{"a":"0.12mm","f":29.5,"d":-0.6},{"a":"0.12mm","f":32,"d":-0.15},{"a":"0.12mm","f":35,"d":-0.2},{"a":"0.12mm","f":35.8,"d":-0.8},{"a":"0.12mm","f":36.5,"d":-3.2},{"a":"0.12mm","f":36.9,"d":-8},{"a":"0.12mm","f":37.2,"d":-15.5},{"a":"0.12mm","f":37.5,"d":-7},{"a":"0.12mm","f":38.0,"d":-2.6},{"a":"0.12mm","f":39,"d":-1.5},{"a":"0.12mm","f":41,"d":-1.9},{"a":"0.12mm","f":42.5,"d":-2.8},{"a":"0.12mm","f":43.6,"d":-5.5},{"a":"0.12mm","f":44.2,"d":-9},{"a":"0.12mm","f":44.6,"d":-15.8},{"a":"0.12mm","f":45.0,"d":-8},{"a":"0.12mm","f":45.6,"d":-3.5},{"a":"0.12mm","f":46.5,"d":-2.1},{"a":"0.12mm","f":48,"d":-1.7},{"a":"0.12mm","f":49.5,"d":-1.8},{"a":"0.12mm","f":52,"d":-1.2},{"a":"0.12mm","f":55,"d":-1.0},{"a":"0.12mm","f":58,"d":-1.2},{"a":"0.12mm","f":60,"d":-1.7},{"a":"0.12mm","f":61.5,"d":-3.0},{"a":"0.12mm","f":63,"d":-5.5},{"a":"0.12mm","f":64,"d":-8.5},{"a":"0.12mm","f":65,"d":-12},{"a":"0.12mm","f":65.8,"d":-16},{"a":"0.12mm","f":66.5,"d":-19.5},{"a":"0.12mm","f":67.0,"d":-25},{"a":"0.12mm","f":67.3,"d":-44},{"a":"0.12mm","f":67.6,"d":-25},{"a":"0.12mm","f":68.0,"d":-14},{"a":"0.12mm","f":68.6,"d":-8},{"a":"0.12mm","f":69.3,"d":-5},{"a":"0.12mm","f":70.5,"d":-3.3},{"a":"0.12mm","f":72,"d":-3.2},{"a":"0.12mm","f":74,"d":-3.4},{"a":"0.12mm","f":76,"d":-2.6},{"a":"0.12mm","f":78,"d":-1.8},{"a":"0.12mm","f":80,"d":-1.7},
{"a":"0.13mm","f":10,"d":0},{"a":"0.13mm","f":14,"d":-0.1},{"a":"0.13mm","f":17,"d":-0.4},{"a":"0.13mm","f":19,"d":-0.85},{"a":"0.13mm","f":20.5,"d":-1.4},{"a":"0.13mm","f":21.2,"d":-2.0},{"a":"0.13mm","f":21.6,"d":-2.9},{"a":"0.13mm","f":22.0,"d":-1.8},{"a":"0.13mm","f":22.8,"d":-1.2},{"a":"0.13mm","f":24,"d":-1.1},{"a":"0.13mm","f":25,"d":-2.2},{"a":"0.13mm","f":25.6,"d":-5.5},{"a":"0.13mm","f":26.1,"d":-10},{"a":"0.13mm","f":26.5,"d":-13.2},{"a":"0.13mm","f":26.9,"d":-7},{"a":"0.13mm","f":27.5,"d":-3.2},{"a":"0.13mm","f":28.2,"d":-1.5},{"a":"0.13mm","f":29.5,"d":-0.5},{"a":"0.13mm","f":32,"d":-0.1},{"a":"0.13mm","f":35,"d":-0.2},{"a":"0.13mm","f":35.8,"d":-0.8},{"a":"0.13mm","f":36.5,"d":-3.5},{"a":"0.13mm","f":37.0,"d":-9},{"a":"0.13mm","f":37.4,"d":-19.7},{"a":"0.13mm","f":37.7,"d":-8},{"a":"0.13mm","f":38.2,"d":-2.8},{"a":"0.13mm","f":39.5,"d":-1.4},{"a":"0.13mm","f":41,"d":-1.8},{"a":"0.13mm","f":42.5,"d":-2.8},{"a":"0.13mm","f":43.6,"d":-5.5},{"a":"0.13mm","f":44.2,"d":-9},{"a":"0.13mm","f":44.6,"d":-15.2},{"a":"0.13mm","f":45.0,"d":-7.5},{"a":"0.13mm","f":45.6,"d":-3.3},{"a":"0.13mm","f":46.5,"d":-2.0},{"a":"0.13mm","f":48,"d":-1.7},{"a":"0.13mm","f":49.5,"d":-1.6},{"a":"0.13mm","f":52,"d":-1.2},{"a":"0.13mm","f":55,"d":-1.0},{"a":"0.13mm","f":58,"d":-1.2},{"a":"0.13mm","f":60,"d":-1.8},{"a":"0.13mm","f":61.5,"d":-3.5},{"a":"0.13mm","f":63,"d":-6.5},{"a":"0.13mm","f":64,"d":-9},{"a":"0.13mm","f":65,"d":-12},{"a":"0.13mm","f":65.8,"d":-13.5},{"a":"0.13mm","f":66.3,"d":-13.9},{"a":"0.13mm","f":66.8,"d":-14.5},{"a":"0.13mm","f":67.3,"d":-16.0},{"a":"0.13mm","f":67.8,"d":-12},{"a":"0.13mm","f":68.4,"d":-8},{"a":"0.13mm","f":69.2,"d":-5.3},{"a":"0.13mm","f":70.5,"d":-3.8},{"a":"0.13mm","f":72,"d":-3.5},{"a":"0.13mm","f":74,"d":-3.8},{"a":"0.13mm","f":76,"d":-2.8},{"a":"0.13mm","f":78,"d":-2.0},{"a":"0.13mm","f":80,"d":-2.0},
{"a":"0.14mm","f":10,"d":0},{"a":"0.14mm","f":14,"d":-0.1},{"a":"0.14mm","f":17,"d":-0.4},{"a":"0.14mm","f":19,"d":-0.85},{"a":"0.14mm","f":20.5,"d":-1.35},{"a":"0.14mm","f":21.2,"d":-1.9},{"a":"0.14mm","f":21.6,"d":-2.6},{"a":"0.14mm","f":22.0,"d":-1.8},{"a":"0.14mm","f":22.8,"d":-1.2},{"a":"0.14mm","f":24,"d":-1.1},{"a":"0.14mm","f":25,"d":-2.0},{"a":"0.14mm","f":25.6,"d":-4.5},{"a":"0.14mm","f":26.2,"d":-9},{"a":"0.14mm","f":26.6,"d":-13.8},{"a":"0.14mm","f":27.0,"d":-8},{"a":"0.14mm","f":27.5,"d":-3.5},{"a":"0.14mm","f":28.3,"d":-1.5},{"a":"0.14mm","f":29.5,"d":-0.5},{"a":"0.14mm","f":32,"d":-0.1},{"a":"0.14mm","f":35,"d":-0.2},{"a":"0.14mm","f":35.8,"d":-0.8},{"a":"0.14mm","f":36.5,"d":-3.2},{"a":"0.14mm","f":36.9,"d":-7.5},{"a":"0.14mm","f":37.2,"d":-14.8},{"a":"0.14mm","f":37.5,"d":-7},{"a":"0.14mm","f":38.1,"d":-2.6},{"a":"0.14mm","f":39.5,"d":-1.4},{"a":"0.14mm","f":41,"d":-1.8},{"a":"0.14mm","f":42.5,"d":-2.8},{"a":"0.14mm","f":43.8,"d":-6},{"a":"0.14mm","f":44.4,"d":-12},{"a":"0.14mm","f":44.7,"d":-25},{"a":"0.14mm","f":44.85,"d":-35.7},{"a":"0.14mm","f":45.0,"d":-22},{"a":"0.14mm","f":45.3,"d":-8},{"a":"0.14mm","f":45.9,"d":-3.2},{"a":"0.14mm","f":46.8,"d":-2.0},{"a":"0.14mm","f":48,"d":-1.6},{"a":"0.14mm","f":49.5,"d":-1.6},{"a":"0.14mm","f":52,"d":-1.2},{"a":"0.14mm","f":55,"d":-1.0},{"a":"0.14mm","f":58,"d":-1.1},{"a":"0.14mm","f":60,"d":-1.6},{"a":"0.14mm","f":61.5,"d":-2.9},{"a":"0.14mm","f":63,"d":-5.5},{"a":"0.14mm","f":64,"d":-9},{"a":"0.14mm","f":65,"d":-15},{"a":"0.14mm","f":65.8,"d":-19},{"a":"0.14mm","f":66.5,"d":-21},{"a":"0.14mm","f":67.0,"d":-24},{"a":"0.14mm","f":67.3,"d":-35},{"a":"0.14mm","f":67.55,"d":-52.5},{"a":"0.14mm","f":67.8,"d":-30},{"a":"0.14mm","f":68.1,"d":-14},{"a":"0.14mm","f":68.6,"d":-7.5},{"a":"0.14mm","f":69.2,"d":-4.8},{"a":"0.14mm","f":70.5,"d":-3.4},{"a":"0.14mm","f":72,"d":-3.4},{"a":"0.14mm","f":74,"d":-3.6},{"a":"0.14mm","f":76,"d":-2.6},{"a":"0.14mm","f":78,"d":-1.8},{"a":"0.14mm","f":80,"d":-1.8},
{"a":"0.15mm","f":10,"d":0},{"a":"0.15mm","f":14,"d":-0.1},{"a":"0.15mm","f":17,"d":-0.4},{"a":"0.15mm","f":19,"d":-0.9},{"a":"0.15mm","f":20.5,"d":-1.5},{"a":"0.15mm","f":21.2,"d":-2.3},{"a":"0.15mm","f":21.6,"d":-3.5},{"a":"0.15mm","f":22.0,"d":-2.0},{"a":"0.15mm","f":22.8,"d":-1.3},{"a":"0.15mm","f":24,"d":-1.3},{"a":"0.15mm","f":25,"d":-2.8},{"a":"0.15mm","f":25.5,"d":-6.5},{"a":"0.15mm","f":25.8,"d":-10},{"a":"0.15mm","f":26.0,"d":-12.3},{"a":"0.15mm","f":26.4,"d":-7},{"a":"0.15mm","f":27.0,"d":-3.0},{"a":"0.15mm","f":27.8,"d":-1.4},{"a":"0.15mm","f":29.5,"d":-0.5},{"a":"0.15mm","f":32,"d":-0.1},{"a":"0.15mm","f":35,"d":-0.2},{"a":"0.15mm","f":35.5,"d":-0.9},{"a":"0.15mm","f":36.0,"d":-4},{"a":"0.15mm","f":36.3,"d":-10},{"a":"0.15mm","f":36.4,"d":-17},{"a":"0.15mm","f":36.6,"d":-9},{"a":"0.15mm","f":37.0,"d":-3},{"a":"0.15mm","f":37.8,"d":-1.7},{"a":"0.15mm","f":39.5,"d":-1.4},{"a":"0.15mm","f":41,"d":-1.8},{"a":"0.15mm","f":42.3,"d":-3.0},{"a":"0.15mm","f":43.2,"d":-6},{"a":"0.15mm","f":43.7,"d":-10},{"a":"0.15mm","f":44.1,"d":-14.5},{"a":"0.15mm","f":44.5,"d":-8},{"a":"0.15mm","f":45.0,"d":-3.5},{"a":"0.15mm","f":45.8,"d":-1.8},{"a":"0.15mm","f":46.8,"d":-1.6},{"a":"0.15mm","f":48,"d":-2.6},{"a":"0.15mm","f":48.7,"d":-3.4},{"a":"0.15mm","f":49.5,"d":-2.2},{"a":"0.15mm","f":52,"d":-1.1},{"a":"0.15mm","f":55,"d":-0.9},{"a":"0.15mm","f":58,"d":-1.2},{"a":"0.15mm","f":60,"d":-1.9},{"a":"0.15mm","f":61.5,"d":-3.2},{"a":"0.15mm","f":63,"d":-4.6},{"a":"0.15mm","f":64,"d":-5.0},{"a":"0.15mm","f":64.9,"d":-5.3},{"a":"0.15mm","f":65.8,"d":-6.5},{"a":"0.15mm","f":66.6,"d":-8.3},{"a":"0.15mm","f":67.3,"d":-9.1},{"a":"0.15mm","f":67.9,"d":-7.5},{"a":"0.15mm","f":68.6,"d":-5.5},{"a":"0.15mm","f":69.5,"d":-4.2},{"a":"0.15mm","f":70.5,"d":-3.6},{"a":"0.15mm","f":72,"d":-3.4},{"a":"0.15mm","f":74,"d":-3.5},{"a":"0.15mm","f":76,"d":-2.7},{"a":"0.15mm","f":78,"d":-1.9},{"a":"0.15mm","f":80,"d":-1.7},
{"a":"0.16mm","f":10,"d":0},{"a":"0.16mm","f":14,"d":-0.1},{"a":"0.16mm","f":17,"d":-0.4},{"a":"0.16mm","f":19,"d":-0.9},{"a":"0.16mm","f":20.5,"d":-1.4},{"a":"0.16mm","f":21.2,"d":-2.1},{"a":"0.16mm","f":21.6,"d":-3.2},{"a":"0.16mm","f":22.0,"d":-1.9},{"a":"0.16mm","f":22.8,"d":-1.2},{"a":"0.16mm","f":24,"d":-1.2},{"a":"0.16mm","f":25,"d":-2.2},{"a":"0.16mm","f":25.6,"d":-5.3},{"a":"0.16mm","f":26.1,"d":-10},{"a":"0.16mm","f":26.5,"d":-13.5},{"a":"0.16mm","f":26.9,"d":-7},{"a":"0.16mm","f":27.5,"d":-3.2},{"a":"0.16mm","f":28.2,"d":-1.5},{"a":"0.16mm","f":29.5,"d":-0.5},{"a":"0.16mm","f":32,"d":-0.1},{"a":"0.16mm","f":35,"d":-0.2},{"a":"0.16mm","f":35.8,"d":-0.9},{"a":"0.16mm","f":36.5,"d":-3.5},{"a":"0.16mm","f":36.9,"d":-8.5},{"a":"0.16mm","f":37.2,"d":-16},{"a":"0.16mm","f":37.5,"d":-7.5},{"a":"0.16mm","f":38.0,"d":-2.6},{"a":"0.16mm","f":39.5,"d":-1.4},{"a":"0.16mm","f":41,"d":-1.8},{"a":"0.16mm","f":42.5,"d":-2.8},{"a":"0.16mm","f":43.7,"d":-5.8},{"a":"0.16mm","f":44.3,"d":-9.5},{"a":"0.16mm","f":44.7,"d":-14.8},{"a":"0.16mm","f":45.1,"d":-7.5},{"a":"0.16mm","f":45.7,"d":-3.3},{"a":"0.16mm","f":46.6,"d":-2.0},{"a":"0.16mm","f":48,"d":-1.7},{"a":"0.16mm","f":49.5,"d":-1.6},{"a":"0.16mm","f":52,"d":-1.2},{"a":"0.16mm","f":55,"d":-1.0},{"a":"0.16mm","f":58,"d":-1.2},{"a":"0.16mm","f":60,"d":-1.7},{"a":"0.16mm","f":61.5,"d":-3.1},{"a":"0.16mm","f":63,"d":-5.8},{"a":"0.16mm","f":64,"d":-8.5},{"a":"0.16mm","f":65,"d":-11},{"a":"0.16mm","f":65.8,"d":-13.5},{"a":"0.16mm","f":66.5,"d":-15},{"a":"0.16mm","f":67.2,"d":-17.5},{"a":"0.16mm","f":67.9,"d":-20.2},{"a":"0.16mm","f":68.3,"d":-14},{"a":"0.16mm","f":68.8,"d":-8.5},{"a":"0.16mm","f":69.5,"d":-5.3},{"a":"0.16mm","f":70.5,"d":-4.2},{"a":"0.16mm","f":72,"d":-4.2},{"a":"0.16mm","f":74,"d":-4.6},{"a":"0.16mm","f":76,"d":-3.4},{"a":"0.16mm","f":78,"d":-2.3},{"a":"0.16mm","f":80,"d":-2.0}
]
},
"hconcat":[
{
"width":535,"height":454,
"view":{"stroke":"#444"},
"layer":[
{"data":{"name":"L"},"mark":{"type":"line","strokeWidth":1,"interpolate":"monotone","clip":true},
"encoding":{
"x":{"field":"f","type":"quantitative","scale":{"domain":[10,80],"nice":false,"zero":false},
"axis":{"orient":"bottom","values":[10,20,30,40,50,60,70,80],"format":".2f","gridColor":"#c4c4c4","tickSize":5,"title":"Freq [GHz]","labelPadding":5,"titlePadding":4,"domainWidth":1.5,"labelOverlap":false,"labelFlush":false}},
"y":{"field":"d","type":"quantitative","scale":{"domain":[-40,0],"nice":false,"zero":false},
"axis":{"orient":"left","values":[0,-5,-10,-15,-20,-25,-30,-35,-40],"format":".2f","gridColor":"#c4c4c4","tickSize":5,"title":null,"labelPadding":5,"domainWidth":1.5,"labelOverlap":false,"labelFlush":false}},
"color":{"field":"s","type":"nominal","scale":{"domain":["red","pink","olive","blue","navy","mauve","purple","brown"],"range":["#ff3b3b","#e46ad0","#b4ac50","#4a4aff","#2a2a9a","#c4a4c8","#8a4a8a","#7a5040"]},"legend":null}}},
{"data":{"name":"M"},"mark":{"type":"point","shape":"triangle-down","size":28,"stroke":"#222","strokeWidth":0.8,"filled":false,"opacity":1},
"encoding":{"x":{"field":"f","type":"quantitative","scale":{"domain":[10,80],"nice":false,"zero":false},
"axis":{"orient":"bottom","values":[12,14,16,18,22,24,26,28,32,34,36,38,42,44,46,48,52,54,56,58,62,64,66,68,72,74,76,78],"labels":false,"domain":false,"tickSize":3,"gridColor":"#e6e6e6","title":null}},
"y":{"field":"d","type":"quantitative","scale":{"domain":[-40,0],"nice":false,"zero":false},
"axis":{"orient":"left","values":[-1,-2,-3,-4,-6,-7,-8,-9,-11,-12,-13,-14,-16,-17,-18,-19,-21,-22,-23,-24,-26,-27,-28,-29,-31,-32,-33,-34,-36,-37,-38,-39],"labels":false,"domain":false,"tickSize":3,"gridColor":"#e6e6e6","title":null}}}},
{"data":{"name":"M"},"mark":{"type":"text","fontSize":8,"dy":-10,"dx":3,"color":"#333","font":"Liberation Sans Narrow, Liberation Sans, sans-serif"},
"encoding":{"x":{"field":"f","type":"quantitative","scale":{"domain":[10,80],"nice":false,"zero":false},"axis":null},"y":{"field":"d","type":"quantitative","scale":{"domain":[-40,0],"nice":false,"zero":false},"axis":null},"text":{"field":"n"}}},
{"data":{"values":[{"c":"(a)"}]},"mark":{"type":"text","fontSize":17,"font":"Liberation Serif","color":"#111"},
"encoding":{"x":{"datum":39.7,"type":"quantitative","scale":{"domain":[10,80],"nice":false,"zero":false},"axis":null},"y":{"datum":-46.8,"type":"quantitative","scale":{"domain":[-40,0],"nice":false,"zero":false},"axis":null},"text":{"field":"c"}}},
{"data":{"name":"T"},"transform":[{"fold":["Name","X","Y"]}],"mark":{"type":"rect","fill":"white","stroke":"#666","strokeWidth":0.8},
"encoding":{"x":{"field":"key","type":"nominal","scale":{"domain":["Name","X","Y"],"range":[460,550],"paddingInner":0,"paddingOuter":0},"axis":null},
"y":{"field":"r","type":"ordinal","scale":{"range":[23,274],"paddingInner":0,"paddingOuter":0},"axis":null}}},
{"data":{"name":"T"},"transform":[{"fold":["Name","X","Y"]}],"mark":{"type":"text","fontSize":6.5,"color":"#333","font":"Liberation Sans Narrow, Liberation Sans, sans-serif"},
"encoding":{"x":{"field":"key","type":"nominal","scale":{"domain":["Name","X","Y"],"range":[460,550],"paddingInner":0,"paddingOuter":0},"axis":null},
"y":{"field":"r","type":"ordinal","scale":{"range":[23,274],"paddingInner":0,"paddingOuter":0},"axis":null},"text":{"field":"value"}}}
],
"resolve":{"scale":{"x":"independent","y":"independent"},"axis":{"x":"independent","y":"independent"}}
},
{
"spacing":0,
"vconcat":[
{"width":508,"height":22,"view":{"stroke":null},
"layer":[
{"data":{"values":[{"t":"XY Plot 9"}]},"mark":{"type":"text","fontSize":14,"color":"#222","font":"Liberation Sans Narrow, Liberation Sans, sans-serif"},
"encoding":{"x":{"datum":42.7,"type":"quantitative","scale":{"domain":[10,80],"nice":false,"zero":false},"axis":null},"y":{"datum":0.5,"type":"quantitative","scale":{"domain":[0,1],"nice":false,"zero":false},"axis":null},"text":{"field":"t"}}},
{"data":{"values":[{"t":"HFSSDesign3"}]},"mark":{"type":"text","align":"right","fontSize":8.5,"color":"#333","font":"Liberation Sans Narrow, Liberation Sans, sans-serif"},
"encoding":{"x":{"datum":78.6,"type":"quantitative","scale":{"domain":[10,80],"nice":false,"zero":false},"axis":null},"y":{"datum":0.5,"type":"quantitative","scale":{"domain":[0,1],"nice":false,"zero":false},"axis":null},"text":{"field":"t"}}},
{"data":{"values":[{"t":"▲"}]},"mark":{"type":"text","align":"center","fontSize":9,"color":"#c05050"},
"encoding":{"x":{"datum":80.7,"type":"quantitative","scale":{"domain":[10,80],"nice":false,"zero":false},"axis":null},"y":{"datum":0.55,"type":"quantitative","scale":{"domain":[0,1],"nice":false,"zero":false},"axis":null},"text":{"field":"t"}}}
]},
{
"width":508,"height":424,
"view":{"stroke":"#999"},
"layer":[
{"data":{"name":"R"},"mark":{"type":"line","strokeWidth":1,"interpolate":"monotone","clip":true},
"encoding":{
"x":{"field":"f","type":"quantitative","scale":{"domain":[10,80],"nice":false,"zero":false},
"axis":{"orient":"bottom","values":[10,20,30,40,50,60,70,80],"format":".2f","gridColor":"#c4c4c4","tickSize":4,"title":"Freq [GHz]","labelPadding":4,"titlePadding":3,"domainWidth":1.5,"labelOverlap":false,"labelFlush":false}},
"y":{"field":"d","type":"quantitative","scale":{"domain":[-60,0],"nice":false,"zero":false},
"axis":{"orient":"left","values":[0,-10,-20,-30,-40,-50,-60],"format":".2f","gridColor":"#c4c4c4","tickSize":4,"title":"Y1","titlePadding":1,"labelPadding":7,"domainWidth":1.5,"labelOverlap":false,"labelFlush":false}},
"color":{"field":"a","type":"nominal","scale":{"domain":["0.09mm","0.1mm","0.11mm","0.12mm","0.13mm","0.14mm","0.15mm","0.16mm"],"range":["#ff0000","#a85ca0","#2aa8e0","#6c1464","#8c8c00","#0000e0","#48c8d0","#009a9a"]},"legend":null}}},
{"data":{"values":[{"c":"(b)"}]},"mark":{"type":"text","fontSize":17,"font":"Liberation Serif","color":"#111"},
"encoding":{"x":{"datum":44.6,"type":"quantitative","scale":{"domain":[10,80],"nice":false,"zero":false},
"axis":{"orient":"bottom","values":[12,14,16,18,22,24,26,28,32,34,36,38,42,44,46,48,52,54,56,58,62,64,66,68,72,74,76,78],"labels":false,"domain":false,"tickSize":3,"gridColor":"#e6e6e6","title":null}},
"y":{"datum":-71.3,"type":"quantitative","scale":{"domain":[-60,0],"nice":false,"zero":false},
"axis":{"orient":"left","values":[-2,-4,-6,-8,-12,-14,-16,-18,-22,-24,-26,-28,-32,-34,-36,-38,-42,-44,-46,-48,-52,-54,-56,-58],"labels":false,"domain":false,"tickSize":3,"gridColor":"#e6e6e6","title":null}},"text":{"field":"c"}}},
{"data":{"name":"LG"},"mark":{"type":"rect","fill":"white","stroke":"#999","strokeWidth":0.8},
"encoding":{"x":{"datum":10,"type":"quantitative","scale":{"domain":[10,80],"nice":false,"zero":false},"axis":null},"x2":{"datum":17.3},
"y":{"field":"a","type":"ordinal","scale":{"domain":["0.09mm","0.1mm","0.11mm","0.12mm","0.13mm","0.14mm","0.15mm","0.16mm"],"range":[19,357],"paddingInner":0,"paddingOuter":0},"axis":null}}},
{"data":{"name":"LG"},"mark":{"type":"point","shape":"stroke","size":110,"strokeWidth":2,"filled":false,"opacity":1,"yOffset":-12,"xOffset":10},
"encoding":{"x":{"datum":10,"type":"quantitative","scale":{"domain":[10,80],"nice":false,"zero":false},"axis":null},
"y":{"field":"a","type":"ordinal","scale":{"domain":["0.09mm","0.1mm","0.11mm","0.12mm","0.13mm","0.14mm","0.15mm","0.16mm"],"range":[19,357],"paddingInner":0,"paddingOuter":0},"axis":null},
"color":{"field":"a","type":"nominal","scale":{"domain":["0.09mm","0.1mm","0.11mm","0.12mm","0.13mm","0.14mm","0.15mm","0.16mm"],"range":["#ff0000","#a85ca0","#2aa8e0","#6c1464","#8c8c00","#0000e0","#48c8d0","#009a9a"]},"legend":null}}},
{"data":{"name":"LG"},"mark":{"type":"text","align":"left","dy":-12,"dx":17,"fontSize":7,"color":"#222","font":"Liberation Sans Narrow, Liberation Sans, sans-serif","text":"dB(S(1,1))"},
"encoding":{"x":{"datum":10,"type":"quantitative","scale":{"domain":[10,80],"nice":false,"zero":false},"axis":null},
"y":{"field":"a","type":"ordinal","scale":{"domain":["0.09mm","0.1mm","0.11mm","0.12mm","0.13mm","0.14mm","0.15mm","0.16mm"],"range":[19,357],"paddingInner":0,"paddingOuter":0},"axis":null}}},
{"data":{"name":"LG"},"mark":{"type":"text","align":"left","dy":0,"dx":2,"fontSize":7,"color":"#222","font":"Liberation Sans Narrow, Liberation Sans, sans-serif","text":"Setup1 : Sweep"},
"encoding":{"x":{"datum":10,"type":"quantitative","scale":{"domain":[10,80],"nice":false,"zero":false},"axis":null},
"y":{"field":"a","type":"ordinal","scale":{"domain":["0.09mm","0.1mm","0.11mm","0.12mm","0.13mm","0.14mm","0.15mm","0.16mm"],"range":[19,357],"paddingInner":0,"paddingOuter":0},"axis":null}}},
{"data":{"name":"LG"},"mark":{"type":"text","align":"left","dy":12,"dx":2,"fontSize":7,"color":"#222","font":"Liberation Sans Narrow, Liberation Sans, sans-serif"},
"encoding":{"x":{"datum":10,"type":"quantitative","scale":{"domain":[10,80],"nice":false,"zero":false},"axis":null},
"y":{"field":"a","type":"ordinal","scale":{"domain":["0.09mm","0.1mm","0.11mm","0.12mm","0.13mm","0.14mm","0.15mm","0.16mm"],"range":[19,357],"paddingInner":0,"paddingOuter":0},"axis":null},"text":{"field":"l3"}}},
{"data":{"values":[{"t":"Curve Info"}]},"mark":{"type":"text","align":"center","dy":-31,"fontSize":7.5,"color":"#222","font":"Liberation Sans Narrow, Liberation Sans, sans-serif"},
"encoding":{"x":{"datum":13.65,"type":"quantitative","scale":{"domain":[10,80],"nice":false,"zero":false},"axis":null},
"y":{"datum":"0.09mm","type":"ordinal","scale":{"domain":["0.09mm","0.1mm","0.11mm","0.12mm","0.13mm","0.14mm","0.15mm","0.16mm"],"range":[19,357],"paddingInner":0,"paddingOuter":0},"axis":null},"text":{"field":"t"}}}
],
"resolve":{"scale":{"x":"independent","y":"independent"},"axis":{"x":"independent","y":"independent"}}
}
]
}
],
"config":{
"view":{"stroke":"#999"},
"font":"Liberation Sans",
"axis":{"labelFont":"Liberation Sans Narrow, Liberation Sans, sans-serif","labelFontSize":8.5,"labelColor":"#333","domainColor":"#333","tickColor":"#555","titleFont":"Liberation Sans Narrow, Liberation Sans, sans-serif","titleFontSize":9,"titleFontWeight":"normal","titleColor":"#333"}
}
}
